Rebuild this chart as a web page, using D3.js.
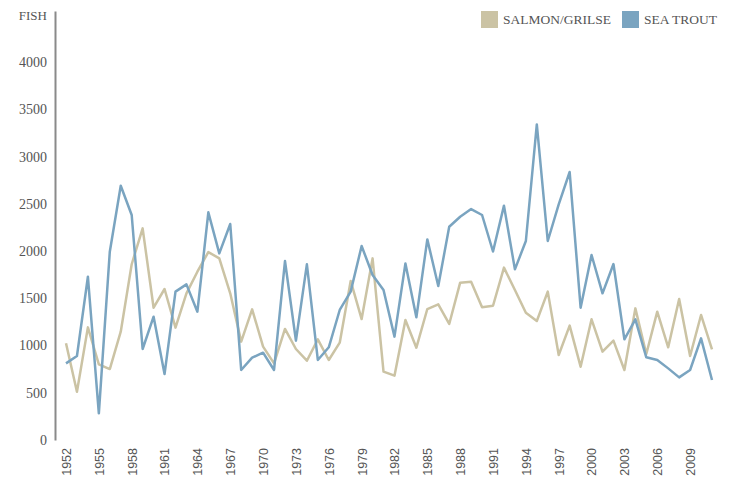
<!DOCTYPE html>
<html>
  <head>
    <meta charset="utf-8" />
    <style>
      body { margin: 0; background: #fff; }
    </style>
  </head>
  <body>
    <svg id="chart"></svg>

    <script src="https://d3js.org/d3.v7.min.js"></script>

    <script>
      const years = d3.range(1952, 2012);

      const salmon = [
        1023, 511, 1192, 801, 751, 1146, 1860, 2240, 1400, 1598,
        1189, 1552, 1781, 1989, 1922, 1552, 1041, 1383, 988, 811,
        1175, 963, 839, 1065, 847, 1030, 1683, 1280, 1922, 723,
        681, 1270, 977, 1386, 1436, 1228, 1665, 1675, 1404, 1421,
        1824, 1587, 1347, 1259, 1570, 899, 1210, 776, 1277, 935,
        1051, 741, 1393, 910, 1358, 981, 1492, 889, 1323, 960,
      ];

      const seaTrout = [
        811, 889, 1728, 282, 1993, 2691, 2381, 963, 1305, 698,
        1570, 1647, 1358, 2409, 1975, 2286, 741, 871, 924, 741,
        1894, 1051, 1859, 847, 981, 1376, 1570, 2053, 1746, 1587,
        1094, 1869, 1298, 2123, 1630, 2257, 2363, 2444, 2381, 1995,
        2480, 1806, 2106, 3340, 2106, 2494, 2836, 1400, 1958, 1552,
        1862, 1065, 1277, 875, 847, 758, 663, 741, 1076, 635,
      ];

      const yTicks = [0, 500, 1000, 1500, 2000, 2500, 3000, 3500, 4000];
      const xTicks = d3.range(1952, 2012, 3);

      const seriesNames = ["SALMON/GRILSE", "SEA TROUT"];
      const colors = ["#cbc3a4", "#7aa4c0"];

      const width = 731;
      const height = 479;

      const svg = d3
        .select("#chart")
        .attr("width", width)
        .attr("height", height)
        .attr("viewBox", [0, 0, width, height]);

      const x = d3.scaleLinear().domain([1952, 2011]).range([66, 712]);
      const y = d3.scaleLinear().domain([0, 4540]).range([440, 11]);

      // y axis, no tick marks, just labels
      svg
        .append("g")
        .attr("transform", "translate(55,0)")
        .call(
          d3
            .axisLeft(y)
            .tickValues(yTicks)
            .tickFormat(d3.format("d"))
            .tickSize(0)
            .tickPadding(8)
            .tickSizeOuter(0)
        )
        .call((g) => g.select(".domain").attr("stroke", "#8a8a8a").attr("stroke-width", 2))
        .call((g) =>
          g
            .selectAll("text")
            .attr("fill", "#555")
            .attr("font-family", "Liberation Serif, serif")
            .attr("font-size", 14)
        );

      svg
        .append("text")
        .attr("x", 47)
        .attr("y", 20)
        .attr("text-anchor", "end")
        .attr("fill", "#555")
        .attr("font-family", "Liberation Serif, serif")
        .attr("font-size", 13)
        .text("FISH");

      // x axis labels, rotated
      svg
        .append("g")
        .attr("transform", "translate(0,440)")
        .call(d3.axisBottom(x).tickValues(xTicks).tickFormat(d3.format("d")).tickSize(0))
        .call((g) => g.select(".domain").remove())
        .call((g) =>
          g
            .selectAll("text")
            .attr("fill", "#555")
            .attr("font-family", "Liberation Sans, sans-serif")
            .attr("font-size", 12.5)
            .attr("text-anchor", "end")
            .attr("transform", "rotate(-90)")
            .attr("x", -8)
            .attr("y", 0)
            .attr("dy", "0.35em")
        );

      const line = d3
        .line()
        .x((d, i) => x(years[i]))
        .y((d) => y(d));

      svg
        .append("g")
        .attr("fill", "none")
        .attr("stroke-width", 2.5)
        .attr("stroke-linejoin", "round")
        .selectAll("path")
        .data([salmon, seaTrout])
        .join("path")
        .attr("stroke", (d, i) => colors[i])
        .attr("d", line);

      // legend
      const legend = svg.append("g").attr("font-family", "Liberation Serif, serif").attr("font-size", 13.5);
      const legendX = [481, 622];
      seriesNames.forEach((name, i) => {
        legend
          .append("rect")
          .attr("x", legendX[i])
          .attr("y", 11)
          .attr("width", 17)
          .attr("height", 17)
          .attr("fill", colors[i]);
        legend
          .append("text")
          .attr("x", legendX[i] + 22)
          .attr("y", 24)
          .attr("fill", "#555")
          .text(name);
      });
    </script>
  </body>
</html>
